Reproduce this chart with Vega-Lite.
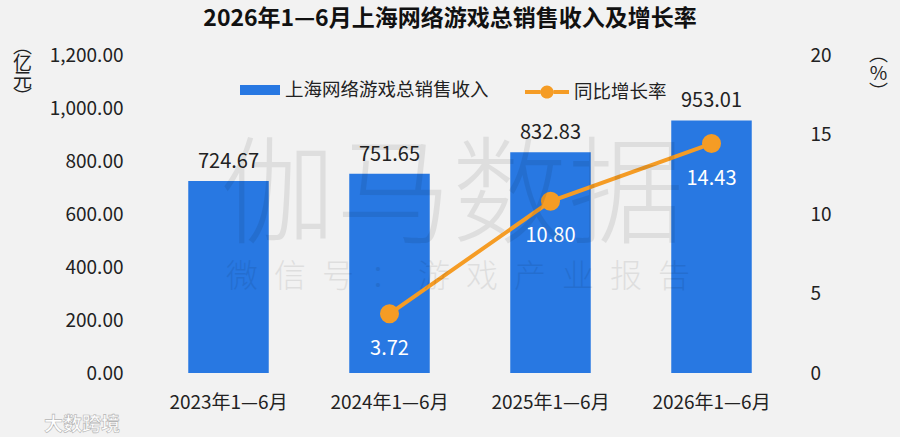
{
  "$schema": "https://vega.github.io/schema/vega-lite/v6.json",
  "width": 644,
  "height": 318,
  "autosize": "none",
  "padding": {"left": 148, "top": 55, "right": 108, "bottom": 64},
  "background": "#f2f2f2",
  "title": {
    "text": "2026年1—6月上海网络游戏总销售收入及增长率",
    "anchor": "middle",
    "frame": "group",
    "dx": -20,
    "fontSize": 23,
    "fontWeight": "bold",
    "color": "#111111",
    "offset": 6
  },
  "data": {
    "values": [
      {"period": "2023年1—6月", "revenue": 724.67, "growth": null},
      {"period": "2024年1—6月", "revenue": 751.65, "growth": 3.72},
      {"period": "2025年1—6月", "revenue": 832.83, "growth": 10.80},
      {"period": "2026年1—6月", "revenue": 953.01, "growth": 14.43}
    ]
  },
  "encoding": {
    "x": {
      "field": "period",
      "type": "nominal",
      "sort": null,
      "scale": {"paddingInner": 0.5, "paddingOuter": 0.25},
      "axis": {
        "title": null,
        "labelAngle": 0,
        "labelPadding": 20,
        "labelFontSize": 19,
        "labelColor": "#222222",
        "domain": false,
        "ticks": false
      }
    }
  },
  "layer": [
    {
      "layer": [
        {
          "mark": {"type": "bar", "color": "#2878e2"},
          "encoding": {
            "y": {
              "field": "revenue",
              "type": "quantitative",
              "scale": {"domain": [0, 1200]},
              "axis": {
                "title": ["︵", "亿", "元", "︶"],
                "titleAngle": 0,
                "titleX": -126,
                "titleY": -18,
                "titleAlign": "center",
                "titleBaseline": "top",
                "titleFontSize": 19,
                "titleFontWeight": "normal",
                "titleLineHeight": 17,
                "titleColor": "#222222",
                "values": [0, 200, 400, 600, 800, 1000, 1200],
                "format": ",.2f",
                "labelPadding": 25,
                "labelFontSize": 19,
                "labelColor": "#222222",
                "domain": false,
                "ticks": false,
                "grid": false
              }
            },
            "fill": {
              "datum": "上海网络游戏总销售收入",
              "scale": {"range": ["#2878e2"]},
              "legend": {
                "title": null,
                "orient": "none",
                "legendX": 92,
                "legendY": 15,
                "symbolType": "M-1,-0.25H1V0.25H-1Z",
                "symbolSize": 1600,
                "symbolStrokeWidth": 0,
                "labelFontSize": 18.5,
                "labelLimit": 400,
                "labelColor": "#222222",
                "labelOffset": 5
              }
            }
          }
        },
        {
          "mark": {"type": "text", "baseline": "bottom", "dy": -9, "fontSize": 20, "color": "#222222"},
          "encoding": {
            "y": {"field": "revenue", "type": "quantitative"},
            "text": {"field": "revenue", "type": "quantitative", "format": ".2f"}
          }
        }
      ]
    },
    {
      "transform": [{"filter": "datum.growth != null"}],
      "layer": [
        {
          "mark": {
            "type": "line",
            "strokeWidth": 4,
            "point": {"filled": true, "size": 290, "fill": "#f59c25", "stroke": null}
          },
          "encoding": {
            "y": {
              "field": "growth",
              "type": "quantitative",
              "scale": {"domain": [0, 20]},
              "axis": {
                "orient": "right",
                "title": ["︵", "%", "︶"],
                "titleAngle": 0,
                "titleX": 86,
                "titleY": -10,
                "titleAlign": "center",
                "titleBaseline": "top",
                "titleFontSize": 19,
                "titleFontWeight": "normal",
                "titleLineHeight": 19,
                "titleColor": "#222222",
                "values": [0, 5, 10, 15, 20],
                "format": "d",
                "labelPadding": 18,
                "labelFontSize": 19,
                "labelColor": "#222222",
                "domain": false,
                "ticks": false,
                "grid": false
              }
            },
            "stroke": {
              "datum": "同比增长率",
              "scale": {"range": ["#f59c25"]},
              "legend": {
                "title": null,
                "orient": "none",
                "legendX": 377,
                "legendY": 15,
                "symbolType": "M-1,-0.09H-0.3V0.09H-1Z M0.3,-0.09H1V0.09H0.3Z M0.3,0A0.3,0.3 0 1,1 -0.3,0A0.3,0.3 0 1,1 0.3,0Z",
                "symbolSize": 1936,
                "symbolStrokeWidth": 0,
                "labelFontSize": 18.5,
                "labelLimit": 400,
                "labelColor": "#222222",
                "labelOffset": 5,
                "encode": {"symbols": {"update": {"fill": {"value": "#f59c25"}, "strokeWidth": {"value": 0}}}}
              }
            }
          }
        },
        {
          "mark": {"type": "text", "baseline": "middle", "dy": 35, "fontSize": 20, "color": "#ffffff"},
          "encoding": {
            "y": {"field": "growth", "type": "quantitative"},
            "text": {"field": "growth", "type": "quantitative", "format": ".2f"}
          }
        }
      ]
    },
    {
      "data": {
        "values": [
          {"label": "伽马数据", "anchor": "2024年1—6月", "level": 655, "kind": "big"},
          {"label": "微\u2002信\u2002号\u2002：\u2002游\u2002戏\u2002产\u2002业\u2002报\u2002告", "anchor": "2024年1—6月", "level": 362, "kind": "small"},
          {"label": "大数跨境", "anchor": "2023年1—6月", "level": -196, "kind": "logo"}
        ]
      },
      "layer": [
        {
          "transform": [{"filter": "datum.kind == 'big'"}],
          "mark": {"type": "text", "baseline": "middle", "align": "center", "dx": -18, "fontSize": 116, "color": "#000000", "opacity": 0.08, "fontWeight": 300},
          "encoding": {"x": {"field": "anchor", "type": "nominal", "bandPosition": 1.5}}
        },
        {
          "transform": [{"filter": "datum.kind == 'small'"}],
          "mark": {"type": "text", "baseline": "middle", "align": "center", "dx": -12, "fontSize": 32, "color": "#000000", "opacity": 0.08, "fontWeight": 300},
          "encoding": {"x": {"field": "anchor", "type": "nominal", "bandPosition": 1.5}}
        },
        {
          "transform": [{"filter": "datum.kind == 'logo'"}],
          "mark": {"type": "text", "baseline": "middle", "align": "center", "fontSize": 19, "fontWeight": "bold", "color": "#ffffff", "stroke": "#b5b5b5", "strokeWidth": 0.6},
          "encoding": {"x": {"field": "anchor", "type": "nominal", "bandPosition": -1.32}}
        }
      ],
      "encoding": {
        "y": {"field": "level", "type": "quantitative", "scale": {"domain": [0, 1200]}, "axis": null},
        "text": {"field": "label"}
      }
    }
  ],
  "resolve": {"scale": {"y": "independent"}},
  "config": {
    "font": "Noto Sans CJK SC",
    "view": {"stroke": null},
    "text": {"font": "Noto Sans CJK SC"}
  }
}
